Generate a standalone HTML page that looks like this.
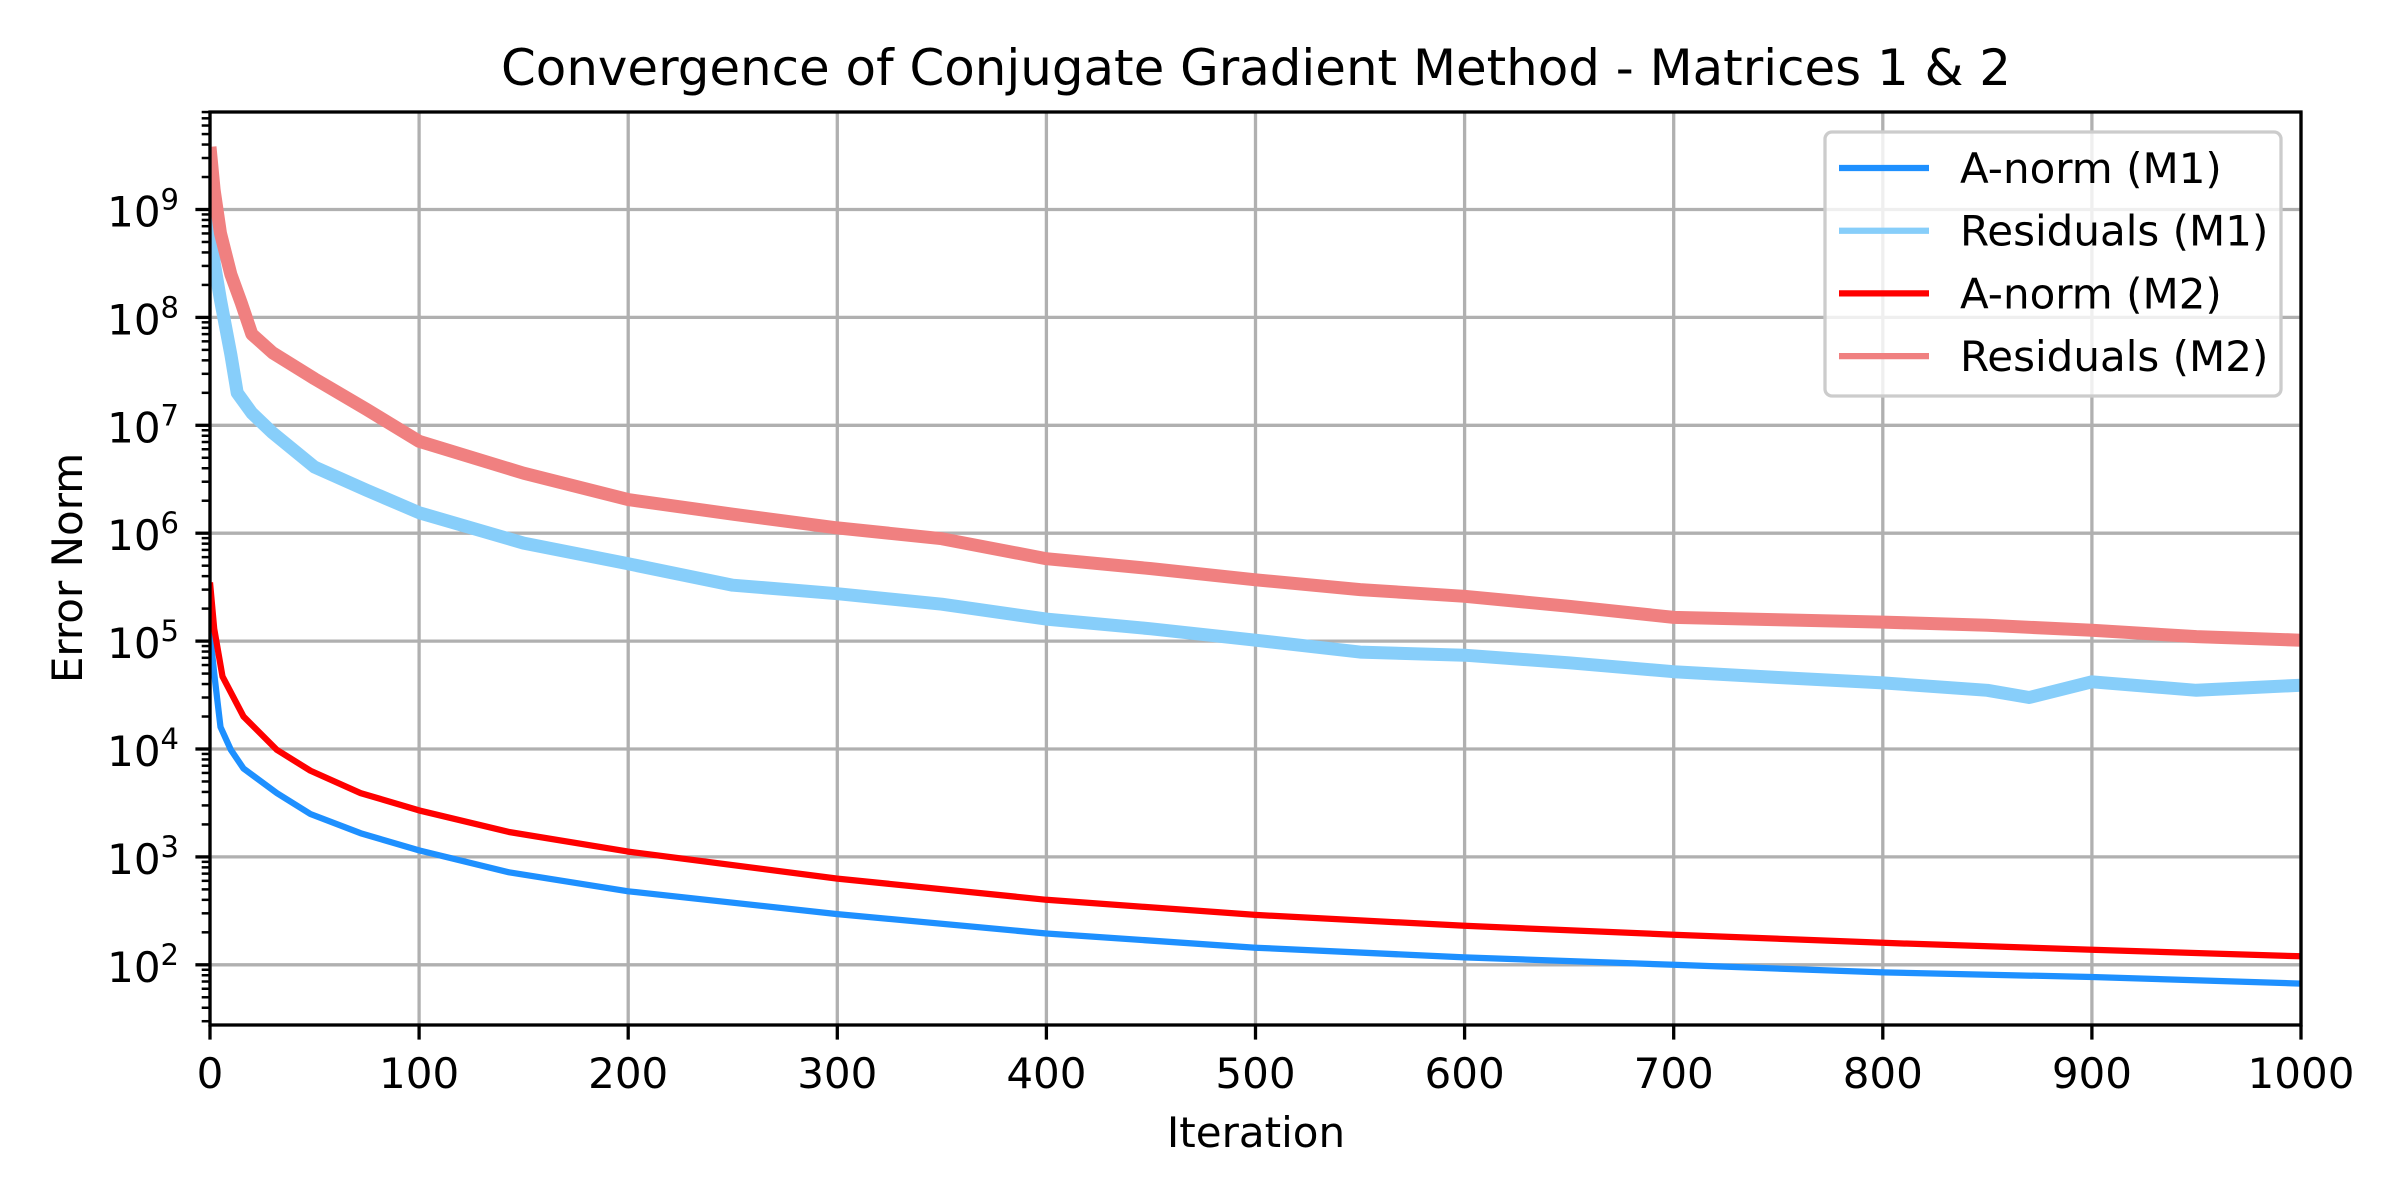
<!DOCTYPE html>
<html><head><meta charset="utf-8"><style>
html,body{margin:0;padding:0;background:#fff;}
svg{display:block;font-family:"DejaVu Sans","Liberation Sans",sans-serif;}
</style></head><body>
<svg id="chart" width="2400" height="1200" viewBox="0 0 2400 1200" xmlns="http://www.w3.org/2000/svg">
<defs><clipPath id="plotclip"><rect x="210" y="112" width="2091" height="913"/></clipPath></defs>
<rect x="0" y="0" width="2400" height="1200" fill="#fff"/>
<text x="1256" y="85" font-size="50" text-anchor="middle" textLength="1510" lengthAdjust="spacingAndGlyphs">Convergence of Conjugate Gradient Method - Matrices 1 &amp; 2</text>
<g id="grid"></g>
<g id="series" clip-path="url(#plotclip)"></g>
<rect x="210" y="112" width="2091" height="913" fill="none" stroke="#000" stroke-width="3.3"/>
<g id="ticks"></g>
<text x="1256" y="1147" font-size="42" text-anchor="middle">Iteration</text>
<text transform="translate(82,568) rotate(-90)" font-size="42" text-anchor="middle">Error Norm</text>
<g id="legend">
<rect x="1825" y="132" width="456" height="264" rx="7" fill="#fff" fill-opacity="0.8" stroke="#cccccc" stroke-width="3.3"/>
</g>
</svg>
<script>
const xTicks=[0,100,200,300,400,500,600,700,800,900,1000];
const yDecades=[2,3,4,5,6,7,8,9];
const seriesNames=["A-norm (M1)","Residuals (M1)","A-norm (M2)","Residuals (M2)"];
const seriesColors=["#1e90ff","#87cefa","#ff0000","#f08080"];
const anormM1X=[0,2,5,10,16,32,48,72,100,143,200,300,400,500,600,700,800,900,1000];
const anormM1Y=[1.2e5,5e4,1.6e4,9.8e3,6.6e3,3.9e3,2.5e3,1.66e3,1.15e3,7.2e2,4.8e2,2.95e2,1.95e2,1.44e2,1.17e2,1.0e2,8.5e1,7.7e1,6.7e1];
const anormM2X=[0,2,6,16,32,48,72,100,143,200,300,400,500,600,700,800,900,1000];
const anormM2Y=[3.5e5,1.3e5,4.7e4,2.0e4,9.8e3,6.3e3,3.9e3,2.7e3,1.7e3,1.12e3,6.3e2,4.0e2,2.9e2,2.3e2,1.9e2,1.6e2,1.38e2,1.2e2];
const resM1X=[0,2,5,10,13,20,30,50,75,100,150,200,250,300,350,400,450,500,550,600,650,700,750,800,850,870,900,950,1000];
const resM1Y=[1.3e9,3.2e8,1.45e8,4.5e7,2.0e7,1.3e7,8.5e6,4.1e6,2.5e6,1.55e6,8.1e5,5.2e5,3.3e5,2.75e5,2.2e5,1.6e5,1.3e5,1.02e5,7.9e4,7.4e4,6.3e4,5.2e4,4.6e4,4.1e4,3.5e4,3.0e4,4.2e4,3.5e4,3.9e4];
const resM2X=[0,2,5,10,15,20,30,50,75,100,150,200,250,300,350,400,450,500,550,600,650,700,750,800,850,900,950,1000];
const resM2Y=[3.8e9,1.5e9,6.0e8,2.5e8,1.35e8,7.0e7,4.7e7,2.7e7,1.4e7,7.1e6,3.6e6,2.05e6,1.5e6,1.12e6,8.9e5,5.8e5,4.7e5,3.7e5,3.0e5,2.6e5,2.1e5,1.66e5,1.58e5,1.5e5,1.4e5,1.26e5,1.1e5,1.02e5];

const NS="http://www.w3.org/2000/svg";
const L=210,R=2301,T=112,B=1025;
const Y9=209.5,DEC=107.9;
function xs(v){return L+(v-0)/(1000-0)*(R-L);}
function ys(v){return Y9+(9-Math.log10(v))*DEC;}
function mk(tag,attrs,parent){const e=document.createElementNS(NS,tag);for(const k in attrs)e.setAttribute(k,attrs[k]);parent.appendChild(e);return e;}
const grid=document.getElementById('grid'),ticks=document.getElementById('ticks'),ser=document.getElementById('series'),leg=document.getElementById('legend');
xTicks.forEach(t=>{
  const x=xs(t);
  const g=mk('line',{x1:x,x2:x,y1:T,y2:B,stroke:'#b0b0b0','stroke-width':3.3},grid);
  
  
  const tk=mk('line',{x1:x,x2:x,y1:B,y2:B+14.6,stroke:'#000','stroke-width':3.3},ticks);
  
  
  const lb=mk('text',{x:x,y:1088,'font-size':42,'text-anchor':'middle'},ticks);
  lb.textContent=String(t);
  
  
});
yDecades.forEach(d=>{
  const y=ys(Math.pow(10,d));
  const g=mk('line',{x1:L,x2:R,y1:y,y2:y,stroke:'#b0b0b0','stroke-width':3.3},grid);
  
  
  const tk=mk('line',{x1:L-14.6,x2:L,y1:y,y2:y,stroke:'#000','stroke-width':3.3},ticks);
  
  
  const lb=mk('text',{x:179,y:y+17,'font-size':42,'text-anchor':'end'},ticks);
  
  
  const a=mk('tspan',{},lb);a.textContent='10';
  const b=mk('tspan',{dy:-17,'font-size':29},lb);b.textContent=String(d);
});
for(let d=1;d<=9;d++){for(let m=2;m<=9;m++){
  const v=m*Math.pow(10,d);const y=ys(v);
  if(y<T-1||y>B+1)continue;
  const tk=mk('line',{x1:L-8.3,x2:L,y1:y,y2:y,stroke:'#000','stroke-width':2.5},ticks);
  
  
}}
function path(X,Y){return X.map((x,i)=>(i?'L':'M')+xs(x).toFixed(1)+','+ys(Y[i]).toFixed(1)).join(' ');}
const order=[[anormM1X,anormM1Y,0,6.25],[resM1X,resM1Y,1,13],[anormM2X,anormM2Y,2,6.25],[resM2X,resM2Y,3,13]];
order.forEach(([X,Y,i,w])=>{
  const p=mk('path',{d:path(X,Y),fill:'none',stroke:seriesColors[i],'stroke-width':w,'stroke-linejoin':'round','stroke-linecap':'butt'},ser);
  
  
});
seriesNames.forEach((n,i)=>{
  const y=168+i*62.7;
  const ln=mk('line',{x1:1839,x2:1929,y1:y,y2:y,stroke:seriesColors[i],'stroke-width':6.25},leg);
  
  
  const t=mk('text',{x:1960,y:y+15,'font-size':42},leg);
  t.textContent=n;
  
  
});
</script>
</body></html>
